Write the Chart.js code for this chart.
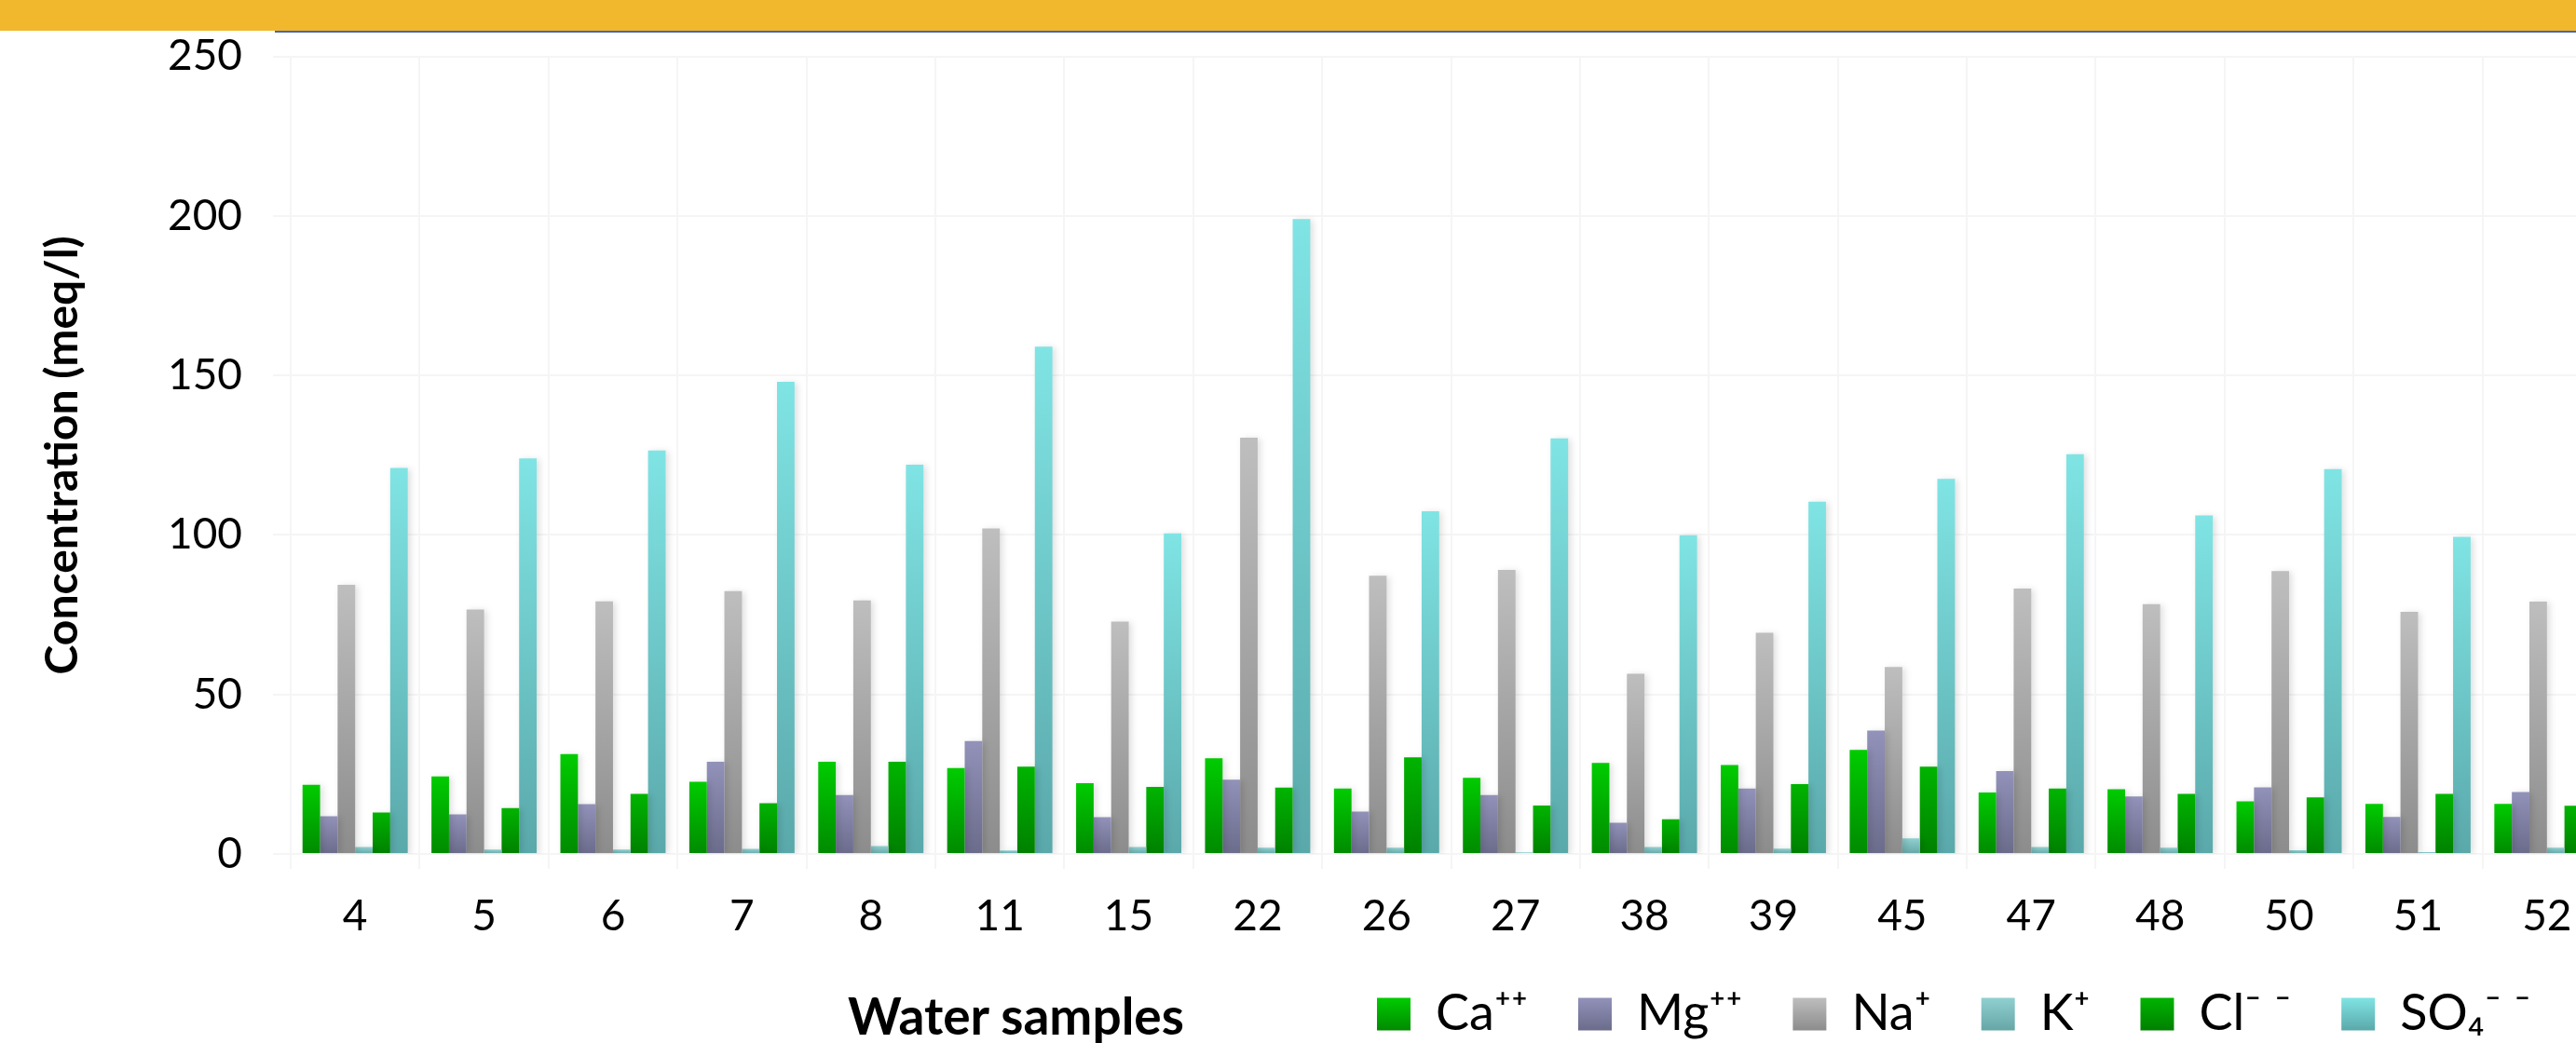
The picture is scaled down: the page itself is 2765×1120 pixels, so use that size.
<!DOCTYPE html>
<html>
<head>
<meta charset="utf-8">
<title>Ionic concentration of water samples</title>
<script src="https://cdn.jsdelivr.net/npm/chart.js@4.4.1/dist/chart.umd.min.js"></script>
<style>
  html, body { margin: 0; padding: 0; background: #ffffff; overflow: hidden; width: 2765px; height: 1120px; }
  #wrap { position: relative; width: 2765px; height: 1120px; overflow: hidden; }
  #band { position: absolute; left: 0; top: 0; width: 2765px; height: 33px; background: #f1b72d; }
  #rule { position: absolute; left: 295px; top: 33px; width: 2470px; height: 2px; background: #4466b8; }
  #xtitle { position: absolute; left: 910px; top: 1063px; font: bold 55px Lato, "Open Sans", sans-serif; line-height: 55px; color: #000; white-space: nowrap; }
  canvas { position: absolute; left: 0; top: 0; }
</style>
</head>
<body>
<div id="wrap">
  <canvas id="chart" width="2803" height="1120"></canvas>
  <div id="band"></div>
  <div id="rule"></div>
  <div id="xtitle">Water samples</div>
</div>
<script>
// Sample identifiers along the x axis
const samples = ['4', '5', '6', '7', '8', '11', '15', '22', '26', '27', '38', '39', '45', '47', '48', '50', '51', '52'];

// Ion concentrations (meq/l) per sample
const ca  = [21.7, 24.3, 31.3, 22.6, 28.9, 26.9, 22.2, 30.0, 20.5, 23.9, 28.5, 27.9, 32.6, 19.3, 20.3, 16.5, 15.7, 15.7];
const mg  = [11.8, 12.4, 15.6, 28.9, 18.5, 35.4, 11.5, 23.3, 13.3, 18.5,  9.8, 20.5, 38.7, 26.0, 18.0, 20.9, 11.6, 19.4];
const na  = [84.4, 76.6, 79.2, 82.4, 79.5, 102.0, 72.8, 130.5, 87.2, 89.0, 56.5, 69.3, 58.6, 83.2, 78.3, 88.7, 75.9, 79.1];
const k   = [2.2, 1.4, 1.4, 1.6, 2.5, 1.1, 2.2, 2.0, 2.0, 0.5, 2.2, 1.7, 4.9, 2.2, 2.0, 1.2, 0.6, 2.0];
const cl  = [13.0, 14.4, 18.8, 15.9, 28.9, 27.4, 21.0, 20.8, 30.3, 15.2, 10.9, 21.9, 27.4, 20.5, 18.8, 17.7, 18.8, 15.1];
const so4 = [121.0, 124.0, 126.5, 148.0, 122.0, 159.0, 100.5, 199.0, 107.4, 130.3, 99.9, 110.4, 117.6, 125.3, 106.1, 120.6, 99.4, 104.0];

// Series names and y axis range
const ionNames = ['Ca\u207A\u207A', 'Mg\u207A\u207A', 'Na\u207A', 'K\u207A', 'Cl\u207B \u207B', 'SO\u2084\u207B \u207B'];
const yMin = 0, yMax = 250, yStep = 50;

// Fill colours: light top, dark base
const shades = [
  ['#00cc00', '#008a00'],
  ['#9292ba', '#6b6b8b'],
  ['#bebebe', '#8c8c8c'],
  ['#90d0d0', '#66a6a6'],
  ['#00b400', '#008000'],
  ['#80e4e4', '#5aa8aa']
];

// Layout constants (pixels)
const PLOT_TOP = 57;
const Y_AXIS_WIDTH = 312;
const X_AXIS_HEIGHT = 85;
const LEGEND_FONT = 54;
const LEGEND_PAD = 54;
const LEGEND_BOX_W = 36;
const LEGEND_BOX_H = 35;
const LEGEND_LEFT = 1478 - LEGEND_PAD;
const LEGEND_TOP = 1008;
const GRID_COLOR = '#f5f5f5';

function barFill(top, bottom) {
  return (context) => {
    const chart = context.chart;
    const area = chart.chartArea;
    if (!area || context.type !== 'data' || !context.parsed) return top;
    const yScale = chart.scales.y;
    const yBase = yScale.getPixelForValue(0);
    const yTop = yScale.getPixelForValue(context.parsed.y);
    if (!isFinite(yBase) || !isFinite(yTop) || Math.abs(yBase - yTop) < 1) return top;
    const g = chart.ctx.createLinearGradient(0, yTop, 0, yBase);
    g.addColorStop(0, top);
    g.addColorStop(1, bottom);
    return g;
  };
}

function legendFill(ctx, i) {
  const boxTop = LEGEND_TOP + LEGEND_PAD + Math.max((LEGEND_FONT - LEGEND_BOX_H) / 2, 0);
  const g = ctx.createLinearGradient(0, boxTop, 0, boxTop + LEGEND_BOX_H);
  g.addColorStop(0, shades[i][0]);
  g.addColorStop(1, shades[i][1]);
  return g;
}

// Soft drop shadow behind the bars
const barShadow = {
  id: 'barShadow',
  beforeDatasetsDraw(chart) {
    const ctx = chart.ctx;
    ctx.save();
    ctx.shadowColor = 'rgba(0, 0, 0, 0.13)';
    ctx.shadowBlur = 7;
    ctx.shadowOffsetX = 3;
    ctx.shadowOffsetY = 1;
  },
  afterDatasetsDraw(chart) {
    chart.ctx.restore();
  }
};

// Places the legend row beside the x axis caption
const legendPlacement = {
  id: 'legendPlacement',
  afterLayout(chart) {
    const lg = chart.legend;
    if (!lg) return;
    const h = lg.height;
    lg.left = LEGEND_LEFT;
    lg.top = LEGEND_TOP;
    lg.bottom = LEGEND_TOP + h;
  }
};

const seriesValues = [ca, mg, na, k, cl, so4];

Chart.defaults.font.family = 'Lato, "Open Sans", sans-serif';
Chart.defaults.color = '#000000';

new Chart(document.getElementById('chart'), {
  type: 'bar',
  data: {
    labels: samples,
    datasets: seriesValues.map((vals, i) => ({
      label: ionNames[i],
      data: vals,
      backgroundColor: barFill(shades[i][0], shades[i][1]),
      borderWidth: 0,
      categoryPercentage: 0.816,
      barPercentage: 1.0
    }))
  },
  options: {
    responsive: false,
    devicePixelRatio: 1,
    animation: false,
    layout: { padding: { top: PLOT_TOP, left: 0, right: 0, bottom: 0 } },
    plugins: {
      tooltip: { enabled: false },
      legend: {
        position: 'bottom',
        align: 'start',
        labels: {
          boxWidth: LEGEND_BOX_W,
          boxHeight: LEGEND_BOX_H,
          padding: LEGEND_PAD,
          color: '#000000',
          font: { size: LEGEND_FONT },
          generateLabels: (chart) => chart.data.datasets.map((ds, i) => ({
            text: ds.label,
            fillStyle: legendFill(chart.ctx, i),
            strokeStyle: 'rgba(0,0,0,0)',
            lineWidth: 0,
            hidden: !chart.isDatasetVisible(i),
            datasetIndex: i,
            fontColor: '#000000'
          }))
        }
      }
    },
    scales: {
      x: {
        grid: { color: GRID_COLOR, lineWidth: 2, tickLength: 16, offset: true },
        border: { display: false },
        ticks: { font: { size: 46 }, color: '#000000', padding: 24, autoSkip: false, maxRotation: 0 },
        afterFit(scale) { scale.height = X_AXIS_HEIGHT; }
      },
      y: {
        min: yMin,
        max: yMax,
        grid: { color: GRID_COLOR, lineWidth: 2, tickLength: 19 },
        border: { display: false },
        ticks: { stepSize: yStep, font: { size: 46 }, color: '#000000', padding: 33 },
        title: {
          display: true,
          text: 'Concentration (meq/l)',
          color: '#000000',
          font: { size: 48, weight: 'bold' },
          padding: { top: 39, bottom: 0 }
        },
        afterFit(scale) { scale.width = Y_AXIS_WIDTH; }
      }
    }
  },
  plugins: [barShadow, legendPlacement]
});
</script>
</body>
</html>
